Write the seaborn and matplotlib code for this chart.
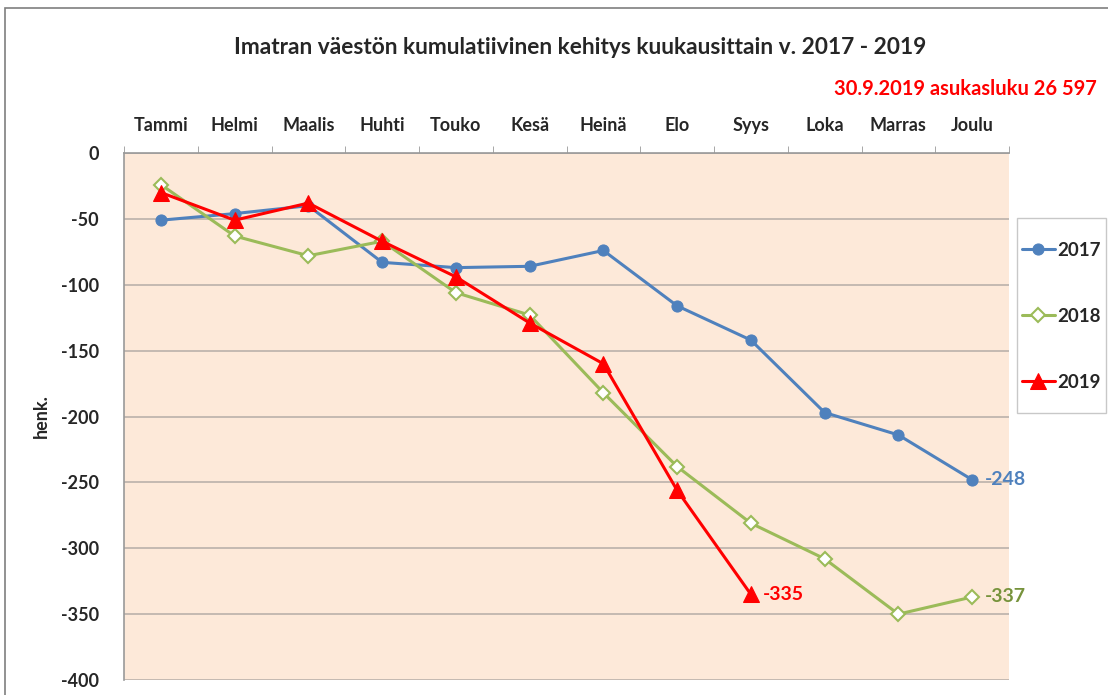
import pandas as pd
import numpy as np
import seaborn as sns
from matplotlib import pyplot as plt
from matplotlib.patches import Rectangle
from matplotlib.ticker import FixedLocator

months = ['Tammi', 'Helmi', 'Maalis', 'Huhti', 'Touko', 'Kesä',
          'Heinä', 'Elo', 'Syys', 'Loka', 'Marras', 'Joulu']
v2017 = [-51, -46, -40, -83, -87, -86, -74, -116, -142, -197, -214, -248]
v2018 = [-24, -63, -78, -67, -106, -123, -182, -238, -281, -308, -350, -337]
v2019 = [-30, -51, -38, -67, -94, -129, -160, -256, -335]
yticks = [0, -50, -100, -150, -200, -250, -300, -350, -400]

sns.set_style('white')
plt.rcParams['font.family'] = ['Lato', 'DejaVu Sans']

fig = plt.figure(figsize=(11.08, 6.95), dpi=100)
ax = fig.add_axes([124 / 1108, 1 - 680 / 695, 885 / 1108, 527 / 695])
ax.set_facecolor('#FDE9D9')

# outer chart border
fig.patches.append(Rectangle((5 / 1108, -0.1), 1.2, 1.1 - 8 / 695,
                             transform=fig.transFigure, fill=False,
                             edgecolor='#7f7f7f', lw=1.2))
# legend frame drawn by hand so its size matches
fig.patches.append(Rectangle((1017 / 1108, 1 - 413 / 695), 89 / 1108, 195 / 695,
                             transform=fig.transFigure, fill=False,
                             edgecolor='#c8c8c8', lw=1.0))

x17 = np.arange(len(v2017))
x19 = np.arange(len(v2019))

sns.lineplot(x=x17, y=v2017, ax=ax, color='#4F81BD', lw=2.2, marker='o',
             markersize=8, markeredgecolor='#4F81BD', label='2017')
sns.lineplot(x=x17, y=v2018, ax=ax, color='#9BBB59', lw=2.2, marker='D',
             markersize=7, markerfacecolor='white', markeredgecolor='#9BBB59',
             markeredgewidth=1.5, label='2018')
sns.lineplot(x=x19, y=v2019, ax=ax, color='#FF0000', lw=2.2, marker='^',
             markersize=11, markeredgecolor='#FF0000', label='2019')

ax.set_xlim(-0.5, 11.5)
ax.set_ylim(-400, 0)
ax.set_yticks(yticks)
ax.set_yticklabels([str(t) for t in yticks], fontsize=13, fontweight='bold')
ax.yaxis.grid(True, color='#BFB6AE', lw=1.3)
ax.tick_params(axis='y', length=6, color='#999999', pad=12)

ax.xaxis.tick_top()
ax.set_xticks(x17)
ax.set_xticklabels(months, fontsize=13, fontweight='bold')
ax.tick_params(axis='x', which='major', length=0, pad=14)
ax.xaxis.set_minor_locator(FixedLocator(np.arange(-0.5, 12, 1)))
ax.tick_params(axis='x', which='minor', length=5, color='#999999', top=True)

for s in ['right', 'bottom']:
    ax.spines[s].set_visible(False)
for s in ['left', 'top']:
    ax.spines[s].set_color('#999999')
    ax.spines[s].set_linewidth(1.2)

ax.set_ylabel('henk.', fontsize=13, fontweight='bold', labelpad=8)
ax.set_xlabel('')

ax.annotate(str(v2017[-1]), (x17[-1], v2017[-1]), xytext=(9, 0),
            textcoords='offset points', va='center', color='#4F81BD',
            fontsize=14, fontweight='bold')
ax.annotate(str(v2018[-1]), (x17[-1], v2018[-1]), xytext=(9, 0),
            textcoords='offset points', va='center', color='#77933C',
            fontsize=14, fontweight='bold')
ax.annotate(str(v2019[-1]), (x19[-1], v2019[-1]), xytext=(9, 0),
            textcoords='offset points', va='center', color='#FF0000',
            fontsize=14, fontweight='bold')

fig.text(580 / 1108, 1 - 47 / 695,
         'Imatran väestön kumulatiivinen kehitys kuukausittain v. 2017 - 2019',
         ha='center', va='center', fontsize=16.4, fontweight='bold')
fig.text(1097 / 1108, 1 - 89 / 695, '30.9.2019 asukasluku 26 597',
         ha='right', va='center', fontsize=14.5, fontweight='bold', color='#FF0000')

leg = ax.legend(loc='upper left', bbox_to_anchor=(1022 / 1108, 1 - 242 / 695),
                bbox_transform=fig.transFigure, frameon=False,
                prop={'size': 13.5, 'weight': 'bold'}, labelspacing=2.6,
                handlelength=1.75, handletextpad=0.15, borderpad=0,
                borderaxespad=0)

fig.savefig('out.png', dpi=100)
